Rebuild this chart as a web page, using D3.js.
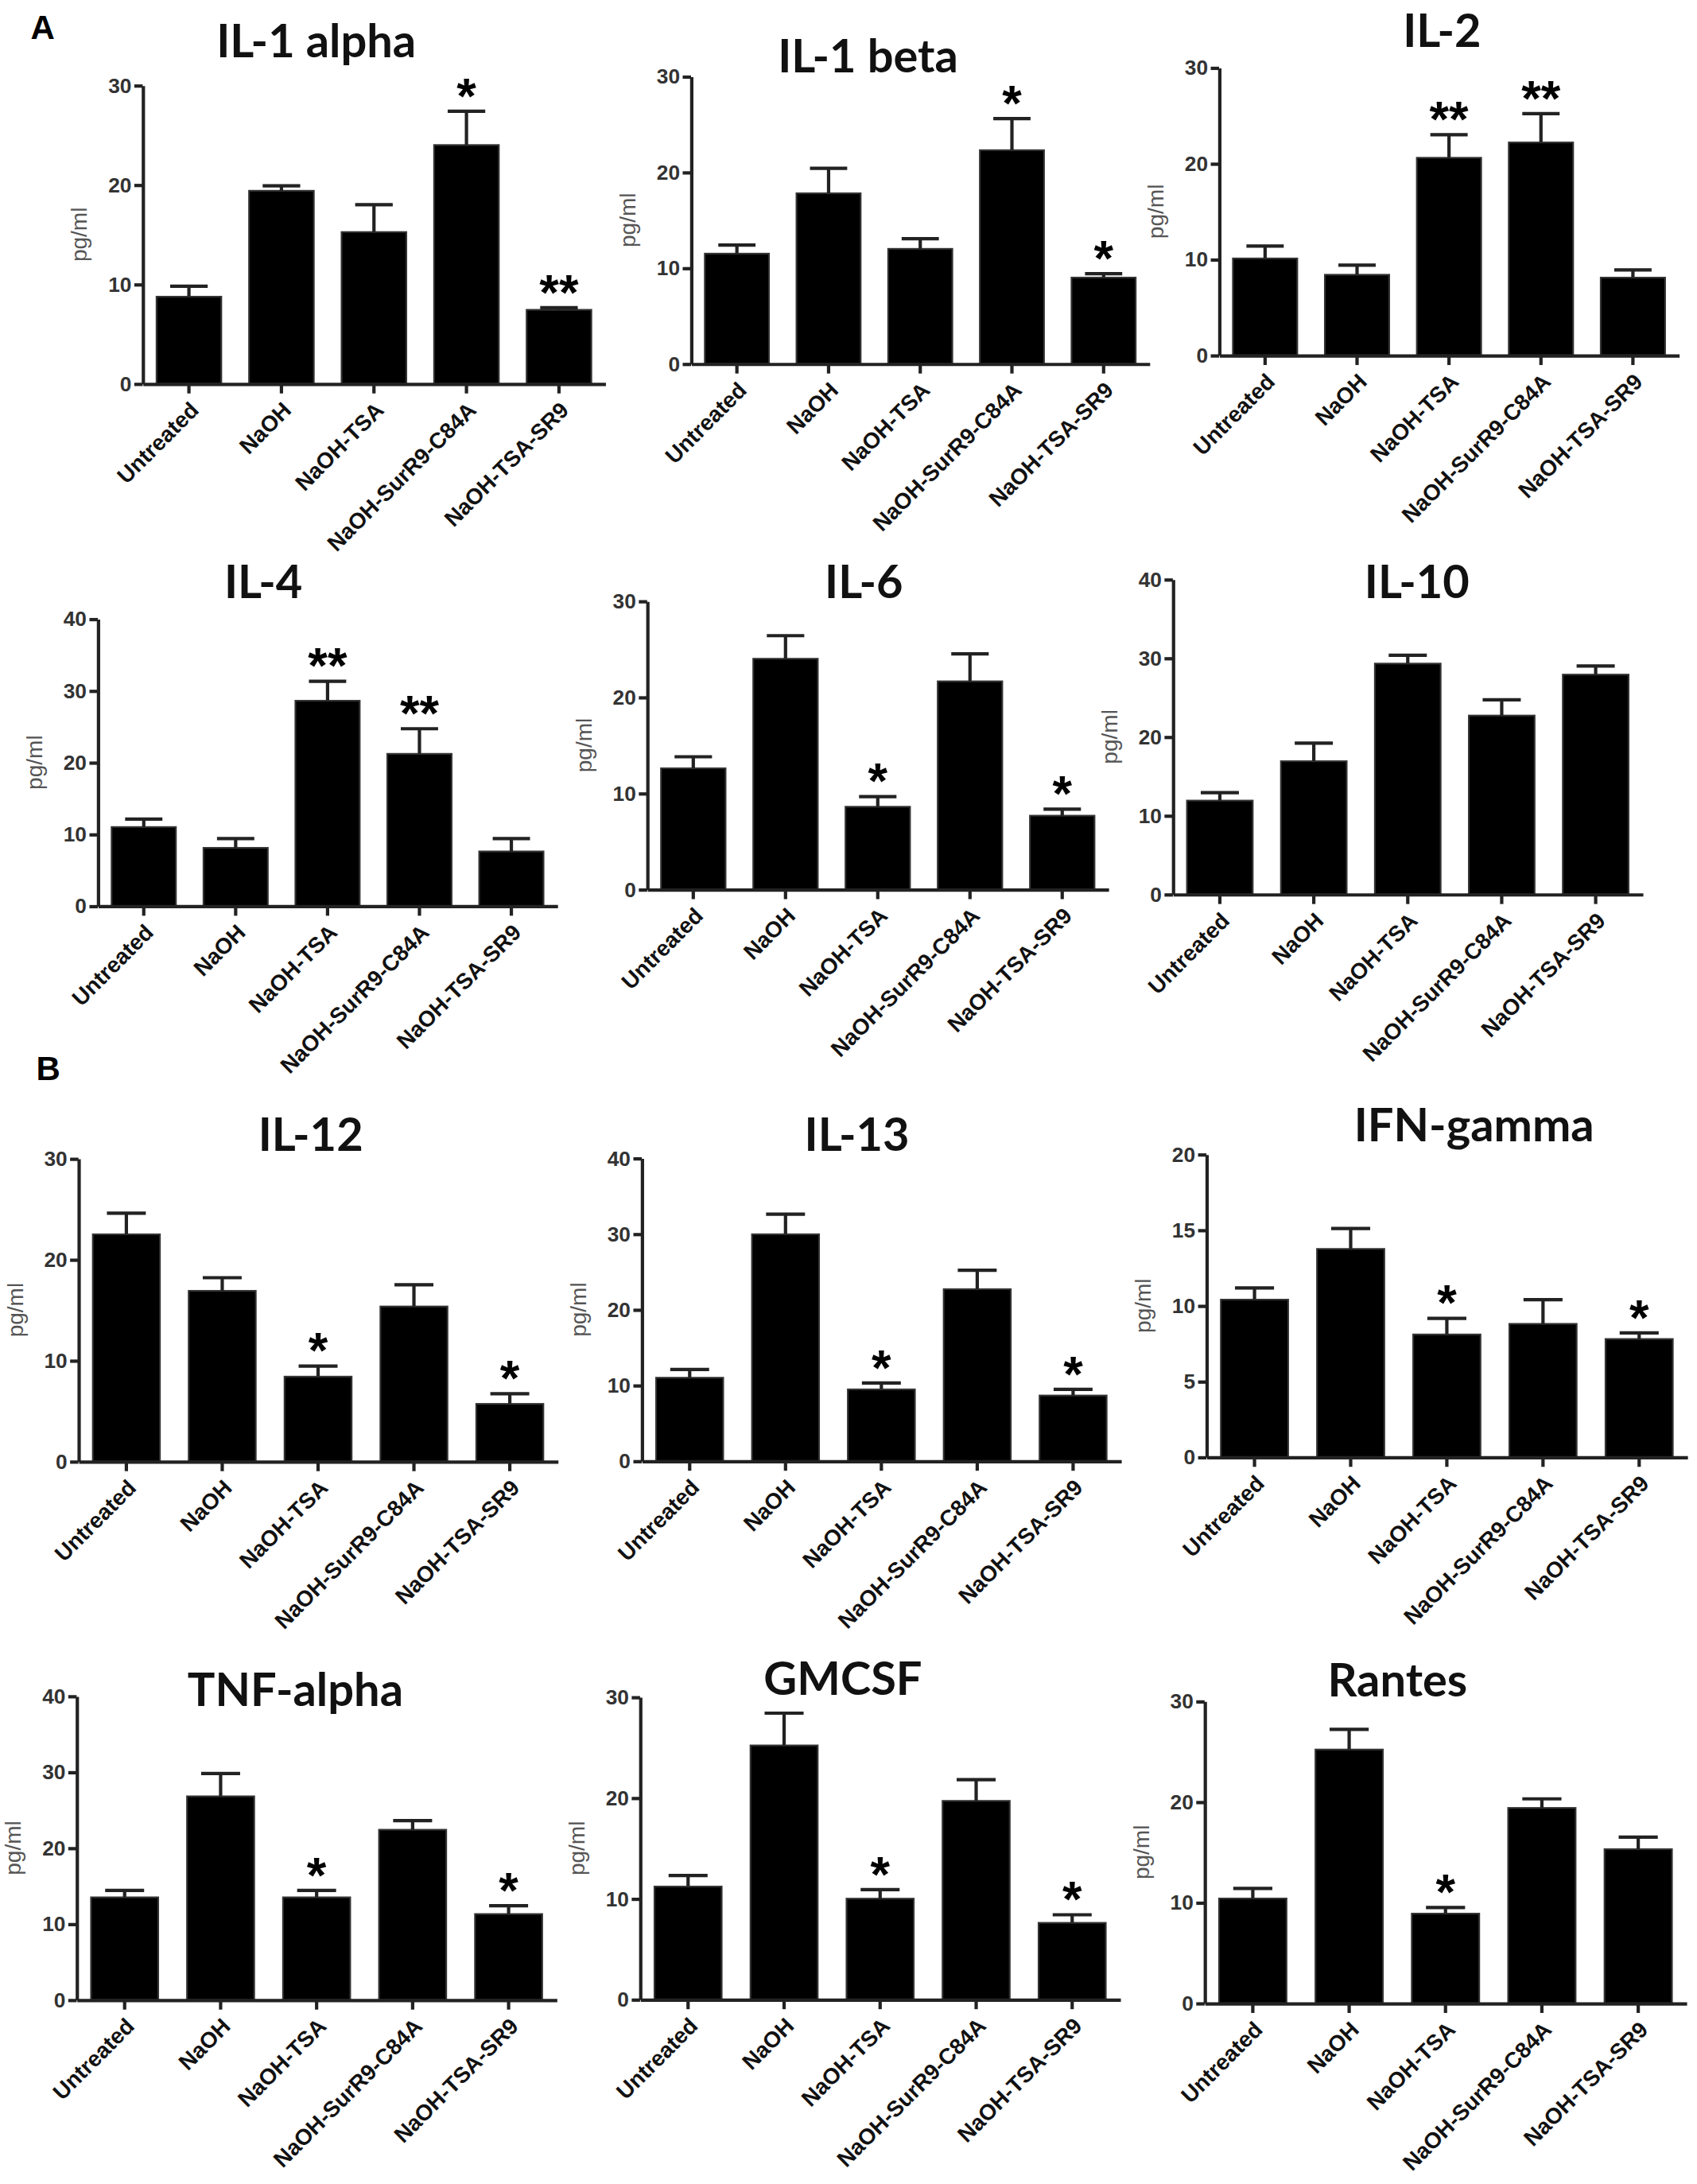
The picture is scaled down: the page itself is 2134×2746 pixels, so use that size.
<!DOCTYPE html>
<html>
<head>
<meta charset="utf-8">
<script src="https://cdn.jsdelivr.net/npm/d3@7"></script>
<style>
  body { margin: 0; background: #fff; }
  svg { display: block; }
</style>
</head>
<body>
<script>
// treatment groups, same order in every panel
const categories = ["Untreated", "NaOH", "NaOH-TSA", "NaOH-SurR9-C84A", "NaOH-TSA-SR9"];

const cytokines = ["IL-1 alpha", "IL-1 beta", "IL-2", "IL-4", "IL-6", "IL-10",
                   "IL-12", "IL-13", "IFN-gamma", "TNF-alpha", "GMCSF", "Rantes"];

// mean pg/ml
const meanValues = [
  [8.75, 19.4, 15.25, 24.0, 7.43],
  [11.5, 17.8, 12.0, 22.3, 9.0],
  [10.1, 8.4, 20.6, 22.2, 8.1],
  [11.0, 8.1, 28.6, 21.2, 7.6],
  [12.6, 24.0, 8.6, 21.65, 7.67],
  [11.9, 16.9, 29.3, 22.7, 27.9],
  [22.5, 16.9, 8.4, 15.35, 5.7],
  [11.0, 29.95, 9.46, 22.7, 8.65],
  [10.4, 13.75, 8.1, 8.8, 7.8],
  [13.5, 26.8, 13.5, 22.4, 11.3],
  [11.2, 25.2, 10.0, 19.7, 7.6],
  [10.4, 25.2, 8.9, 19.4, 15.3]
];

// upper error bar (SEM)
const semValues = [
  [1.05, 0.5, 2.75, 3.4, 0.21],
  [0.9, 2.6, 1.05, 3.3, 0.4],
  [1.3, 1.0, 2.4, 3.0, 0.8],
  [1.1, 1.3, 2.7, 3.5, 1.8],
  [1.2, 2.4, 1.06, 2.85, 0.67],
  [1.0, 2.3, 1.05, 2.0, 1.1],
  [2.1, 1.3, 1.04, 2.15, 1.0],
  [1.1, 2.65, 0.84, 2.5, 0.81],
  [0.77, 1.35, 1.06, 1.6, 0.4],
  [0.9, 3.0, 0.9, 1.2, 1.1],
  [1.1, 3.2, 0.9, 2.1, 0.8],
  [1.0, 2.0, 0.6, 0.9, 1.2]
];

const significance = [
  ["", "", "", "*", "**"],
  ["", "", "", "*", "*"],
  ["", "", "**", "**", ""],
  ["", "", "**", "**", ""],
  ["", "", "*", "", "*"],
  ["", "", "", "", ""],
  ["", "", "*", "", "*"],
  ["", "", "*", "", "*"],
  ["", "", "*", "", "*"],
  ["", "", "*", "", "*"],
  ["", "", "*", "", "*"],
  ["", "", "*", "", ""]
];

const yMaxima = [30, 30, 30, 40, 30, 40, 30, 40, 20, 40, 30, 30];
const yTickStep = [10, 10, 10, 10, 10, 10, 10, 10, 5, 10, 10, 10];

const panelLetters = [{ t: "A", x: 22, y: 28 }, { t: "B", x: 26, y: 775 }];

// placement of each panel (in the 1218-wide drawing space)
const layout = [
  { ax: 102.4, right: 434.4, y0: 275.2, top: 61.1, tx: 227, ty: 41 },
  { ax: 496, right: 825, y0: 260.9, top: 54.7, tx: 623, ty: 52 },
  { ax: 875, right: 1205, y0: 254.8, top: 48.4, tx: 1035, ty: 33.5 },
  { ax: 70.2, right: 400, y0: 650, top: 444, tx: 189, ty: 429 },
  { ax: 464.5, right: 795.5, y0: 638.1, top: 431.2, tx: 620, ty: 429 },
  { ax: 841.8, right: 1179, y0: 641.6, top: 415.6, tx: 1017, ty: 429 },
  { ax: 56.3, right: 400.3, y0: 1048.6, top: 831.3, tx: 223, ty: 826 },
  { ax: 460.6, right: 804.6, y0: 1048.3, top: 831, tx: 615, ty: 826 },
  { ax: 865.9, right: 1211, y0: 1045.5, top: 828.2, tx: 1058, ty: 819 },
  { ax: 55, right: 399.5, y0: 1435, top: 1217, tx: 212, ty: 1224 },
  { ax: 459.4, right: 804, y0: 1434.7, top: 1217.7, tx: 605, ty: 1216 },
  { ax: 864.6, right: 1210.4, y0: 1437.4, top: 1220.7, tx: 1003, ty: 1217 }
];

const W = 1218, H = 1567;
const svg = d3.select("body").append("svg")
  .attr("width", 2134).attr("height", 2746)
  .attr("viewBox", `0 0 ${W} ${H}`);

svg.selectAll("text.letter")
  .data(panelLetters)
  .enter().append("text")
  .attr("class", "letter")
  .attr("x", d => d.x).attr("y", d => d.y)
  .style("font-family", "Liberation Sans, Arial, sans-serif")
  .style("font-weight", "bold").style("font-size", "24px")
  .text(d => d.t);

cytokines.forEach((name, i) => {
  const L = layout[i];
  const rows = categories.map((c, j) => ({
    cat: c, mean: meanValues[i][j], sem: semValues[i][j], sig: significance[i][j]
  }));

  const x = d3.scaleBand().domain(categories)
    .range([L.ax, L.right]).paddingInner(0.3).paddingOuter(0.15);
  const y = d3.scaleLinear().domain([0, yMaxima[i]]).range([L.y0, L.top]);
  const bw = x.bandwidth();

  const g = svg.append("g");

  // title
  g.append("text")
    .attr("x", L.tx).attr("y", L.ty)
    .attr("text-anchor", "middle")
    .style("font-family", "Lato, sans-serif")
    .style("font-weight", "bold").style("font-size", "33px")
    .style("fill", "#111")
    .text(name);

  // bars
  g.selectAll("rect")
    .data(rows).enter().append("rect")
    .attr("x", d => x(d.cat))
    .attr("y", d => y(d.mean))
    .attr("width", bw)
    .attr("height", d => L.y0 - y(d.mean))
    .style("fill", "#000")
    .style("stroke", "#333")
    .style("stroke-width", 1.2);

  // error bars
  const eb = g.selectAll("g.err").data(rows).enter().append("g").attr("class", "err");
  eb.append("line")
    .attr("x1", d => x(d.cat) + bw / 2).attr("x2", d => x(d.cat) + bw / 2)
    .attr("y1", d => y(d.mean)).attr("y2", d => y(d.mean + d.sem));
  eb.append("line")
    .attr("x1", d => x(d.cat) + bw * 0.21).attr("x2", d => x(d.cat) + bw * 0.79)
    .attr("y1", d => y(d.mean + d.sem)).attr("y2", d => y(d.mean + d.sem));
  eb.selectAll("line").style("stroke", "#222").style("stroke-width", 2.4);

  // significance stars
  g.selectAll("text.sig")
    .data(rows.filter(d => d.sig)).enter().append("text")
    .attr("class", "sig")
    .attr("x", d => x(d.cat) + bw / 2)
    .attr("y", d => y(d.mean + d.sem) + 1)
    .attr("text-anchor", "middle")
    .style("font-family", "Liberation Sans, Arial, sans-serif")
    .style("font-weight", "bold").style("font-size", "36px")
    .style("fill", "#000")
    .text(d => d.sig);

  // y axis
  const yAxis = g.append("g")
    .attr("transform", `translate(${L.ax},0)`)
    .call(d3.axisLeft(y)
      .tickValues(d3.range(0, yMaxima[i] + 0.1, yTickStep[i]))
      .tickSize(6).tickSizeOuter(0).tickPadding(2));

  // x axis
  const xAxis = g.append("g")
    .attr("transform", `translate(0,${L.y0})`)
    .call(d3.axisBottom(x).tickSize(7).tickSizeOuter(0));

  [yAxis, xAxis].forEach(a => {
    a.selectAll("path, line").style("stroke", "#222").style("stroke-width", 2.4);
  });
  yAxis.selectAll("text")
    .style("font-family", "Liberation Sans, Arial, sans-serif")
    .style("font-weight", "bold").style("font-size", "15px")
    .style("fill", "#333");
  xAxis.selectAll("text")
    .attr("y", 0).attr("dy", "0.35em")
    .attr("text-anchor", "end")
    .attr("transform", "translate(4,16) rotate(-45)")
    .style("font-family", "Liberation Sans, Arial, sans-serif")
    .style("font-weight", "bold").style("font-size", "16px")
    .style("fill", "#111");

  // y label
  g.append("text")
    .attr("transform", `translate(${L.ax - 40},${(L.y0 + L.top) / 2}) rotate(-90)`)
    .attr("text-anchor", "middle")
    .style("font-family", "Liberation Sans, Arial, sans-serif")
    .style("font-size", "16px")
    .style("fill", "#555")
    .text("pg/ml");
});
</script>
</body>
</html>
